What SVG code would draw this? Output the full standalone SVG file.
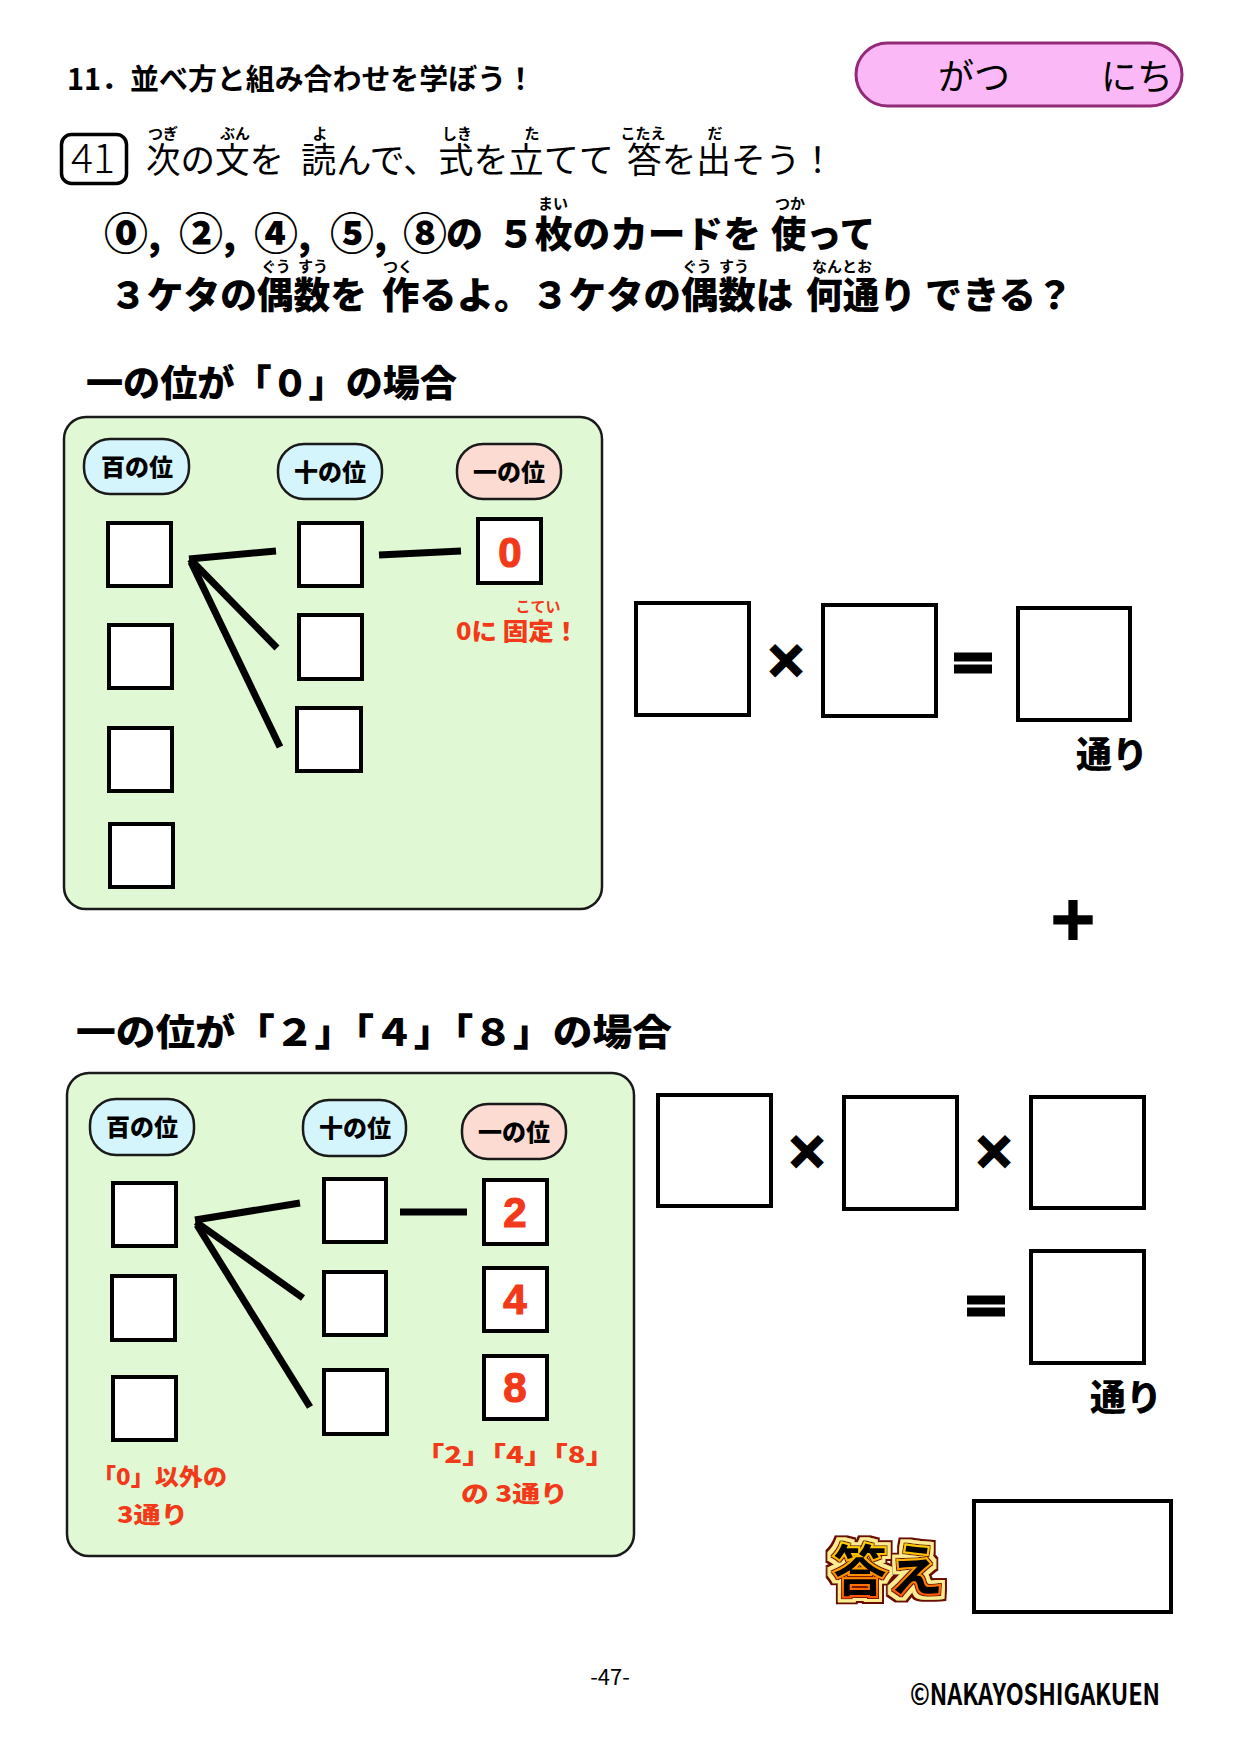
<svg xmlns="http://www.w3.org/2000/svg" width="1240" height="1754" viewBox="0 0 1240 1754">
<defs>
<style>
text{font-family:"Noto Sans CJK JP","Noto Sans CJK SC",sans-serif;fill:#000;}
.h{font-weight:900;}
.b{font-weight:700;}
.r{font-weight:400;}
.red{fill:#f23a1a;}
.box{fill:#fff;stroke:#000;stroke-width:4;}
.panel{fill:#e0f8d4;stroke:#1a1a1a;stroke-width:2.5;}
.pillB{fill:#d5f5fc;stroke:#1a1a1a;stroke-width:2.5;}
.pillR{fill:#fcdcd2;stroke:#1a1a1a;stroke-width:2.5;}
.ln{stroke:#000;stroke-width:7;fill:none;}
.pt{font-size:24px;font-weight:900;text-anchor:middle;}
.ruby{font-size:15px;font-weight:700;text-anchor:middle;}
.dig{font-family:"Liberation Sans",Arial,sans-serif;font-size:42px;font-weight:700;text-anchor:middle;fill:#f23a1a;stroke:#f23a1a;stroke-width:1.2;}
.op{font-weight:900;text-anchor:middle;stroke:#000;stroke-width:3;}
.big{font-size:37px;font-weight:900;}
.circ{font-size:44px;}
</style>
<linearGradient id="gold" x1="0" y1="0" x2="0" y2="1">
<stop offset="0" stop-color="#fff400"/>
<stop offset="0.45" stop-color="#ffb000"/>
<stop offset="1" stop-color="#ff3a00"/>
</linearGradient>
<filter id="badge" x="-30%" y="-40%" width="160%" height="180%">
<feMorphology in="SourceAlpha" operator="dilate" radius="5.5" result="d3"/>
<feFlood flood-color="#6a0c00" result="f3"/>
<feComposite in="f3" in2="d3" operator="in" result="c3"/>
<feMorphology in="SourceAlpha" operator="dilate" radius="3.5" result="d2"/>
<feFlood flood-color="#ffec90" result="f2"/>
<feComposite in="f2" in2="d2" operator="in" result="c2"/>
<feMorphology in="SourceAlpha" operator="dilate" radius="1.2" result="d1"/>
<feFlood flood-color="#7a1200" result="f1"/>
<feComposite in="f1" in2="d1" operator="in" result="c1"/>
<feMerge><feMergeNode in="c3"/><feMergeNode in="c2"/><feMergeNode in="c1"/><feMergeNode in="SourceGraphic"/></feMerge>
</filter>
</defs>
<rect width="1240" height="1754" fill="#fff"/>

<g id="header">
<text x="67" y="90" class="b" font-size="29" textLength="468" lengthAdjust="spacingAndGlyphs">11．並べ方と組み合わせを学ぼう！</text>
</g>

<g id="date">
<rect x="856" y="43" width="326" height="63" rx="31.5" fill="#fbb8f7" stroke="#922a78" stroke-width="3"/>
<text x="938" y="90" class="r" font-size="36">がつ</text>
<text x="1101" y="90" class="r" font-size="36">にち</text>
</g>

<g id="question">
<rect x="61.5" y="134.5" width="65" height="49" rx="10" fill="#fff" stroke="#000" stroke-width="3.5"/>
<text x="93" y="173" font-size="41" font-weight="300" text-anchor="middle">41</text>
<text x="163" y="139" class="ruby">つぎ</text>
<text x="235" y="139" class="ruby">ぶん</text>
<text x="320" y="139" class="ruby">よ</text>
<text x="457" y="139" class="ruby">しき</text>
<text x="532" y="139" class="ruby">た</text>
<text x="643" y="139" class="ruby">こたえ</text>
<text x="715" y="139" class="ruby">だ</text>
<text x="146" y="173" class="r" font-size="35" textLength="138" lengthAdjust="spacingAndGlyphs">次の文を</text>
<text x="301" y="173" class="r" font-size="35" textLength="313" lengthAdjust="spacingAndGlyphs">読んで、式を立てて</text>
<text x="627" y="173" class="r" font-size="35" textLength="208" lengthAdjust="spacingAndGlyphs">答を出そう！</text>

<text x="553" y="209" class="ruby">まい</text>
<text x="790" y="209" class="ruby">つか</text>
<text class="big"><tspan class="circ" x="104" y="250">⓪</tspan><tspan>,</tspan><tspan class="circ" x="179" y="250">②</tspan><tspan>,</tspan><tspan class="circ" x="254" y="250">④</tspan><tspan>,</tspan><tspan class="circ" x="330" y="250">⑤</tspan><tspan>,</tspan><tspan class="circ" x="403" y="250">⑧</tspan><tspan x="446" y="248">の</tspan></text>
<text x="497" y="248" class="big" textLength="264" lengthAdjust="spacingAndGlyphs">５枚のカードを</text>
<text x="771" y="248" class="big" textLength="104" lengthAdjust="spacingAndGlyphs">使って</text>

<text x="276" y="272" class="ruby">ぐう</text>
<text x="313" y="272" class="ruby">すう</text>
<text x="398" y="272" class="ruby">つく</text>
<text x="697" y="272" class="ruby">ぐう</text>
<text x="734" y="272" class="ruby">すう</text>
<text x="842" y="272" class="ruby">なんとお</text>
<text x="110" y="309" class="big" textLength="257" lengthAdjust="spacingAndGlyphs">３ケタの偶数を</text>
<text x="382" y="309" class="big" textLength="411" lengthAdjust="spacingAndGlyphs">作るよ。３ケタの偶数は</text>
<text x="806" y="309" class="big" textLength="110" lengthAdjust="spacingAndGlyphs">何通り</text>
<text x="925" y="309" class="big" textLength="148" lengthAdjust="spacingAndGlyphs">できる？</text>
</g>

<g id="title1">
<text x="86" y="397" class="big" textLength="371" lengthAdjust="spacingAndGlyphs">一の位が「０」の場合</text>
</g>

<g id="panel1">
<rect x="64" y="417" width="538" height="492" rx="22" class="panel"/>
</g>
<g id="p1-labels">
<rect x="84" y="439" width="105" height="55" rx="26" class="pillB"/>
<text x="137" y="476" class="pt">百の位</text>
<rect x="278" y="444" width="104" height="55" rx="26" class="pillB"/>
<text x="330" y="481" class="pt">十の位</text>
<rect x="457" y="444" width="104" height="55" rx="26" class="pillR"/>
<text x="509" y="481" class="pt">一の位</text>
</g>
<g id="p1-hundreds">
<rect x="108" y="523" width="63" height="63" class="box"/>
<rect x="109" y="625" width="63" height="63" class="box"/>
<rect x="109" y="728" width="63" height="63" class="box"/>
<rect x="110" y="824" width="63" height="63" class="box"/>
</g>
<g id="p1-tens">
<rect x="299" y="523" width="63" height="63" class="box"/>
<rect x="299" y="615" width="63" height="64" class="box"/>
<rect x="297" y="708" width="64" height="63" class="box"/>
</g>
<g id="p1-ones">
<rect x="478" y="519" width="63" height="64" class="box"/>
<text x="510" y="567" class="dig">0</text>
<text x="538" y="612" class="ruby red" font-size="14">こてい</text>
<text x="456" y="640" class="h red" font-size="24" textLength="123" lengthAdjust="spacingAndGlyphs">0に 固定！</text>
</g>

<g id="eq1">
<rect x="636" y="603" width="113" height="112" class="box"/>
<text x="786" y="678" class="op" font-size="44">×</text>
<rect x="823" y="605" width="113" height="111" class="box"/>
<text x="973" y="683" class="op" font-size="50">＝</text>
<rect x="1018" y="608" width="112" height="112" class="box"/>
<text x="1076" y="768" class="h" font-size="36">通り</text>
</g>

<g id="plus">
<text x="1073" y="940" class="op" font-size="52">＋</text>
</g>

<g id="title2">
<text x="76" y="1046" class="big" textLength="596" lengthAdjust="spacingAndGlyphs">一の位が「２」「４」「８」の場合</text>
</g>

<g id="panel2">
<rect x="67" y="1073" width="567" height="483" rx="22" class="panel"/>
</g>
<g id="p2-labels">
<rect x="90" y="1099" width="104" height="56" rx="26" class="pillB"/>
<text x="142" y="1136" class="pt">百の位</text>
<rect x="303" y="1100" width="103" height="56" rx="26" class="pillB"/>
<text x="355" y="1137" class="pt">十の位</text>
<rect x="462" y="1104" width="104" height="55" rx="26" class="pillR"/>
<text x="514" y="1141" class="pt">一の位</text>
</g>
<g id="p2-hundreds">
<rect x="113" y="1183" width="63" height="63" class="box"/>
<rect x="112" y="1276" width="63" height="64" class="box"/>
<rect x="113" y="1377" width="63" height="63" class="box"/>
<text x="92" y="1485" class="h red" font-size="23" textLength="135" lengthAdjust="spacingAndGlyphs">「0」以外の</text>
<text x="117" y="1523" class="h red" font-size="23" textLength="71" lengthAdjust="spacingAndGlyphs">3通り</text>
</g>
<g id="p2-tens">
<rect x="324" y="1179" width="62" height="63" class="box"/>
<rect x="324" y="1272" width="62" height="63" class="box"/>
<rect x="324" y="1370" width="63" height="64" class="box"/>
</g>
<g id="p2-ones">
<rect x="484" y="1180" width="63" height="64" class="box"/>
<text x="515" y="1227" class="dig">2</text>
<rect x="484" y="1268" width="63" height="63" class="box"/>
<text x="515" y="1314" class="dig">4</text>
<rect x="484" y="1356" width="63" height="63" class="box"/>
<text x="515" y="1402" class="dig">8</text>
<text x="415" y="1463" class="h red" font-size="23" textLength="200" lengthAdjust="spacingAndGlyphs">「2」「4」「8」</text>
<text x="461" y="1502" class="h red" font-size="23" textLength="107" lengthAdjust="spacingAndGlyphs">の 3通り</text>
</g>

<g id="eq2">
<rect x="658" y="1095" width="113" height="111" class="box"/>
<text x="807" y="1169" class="op" font-size="44">×</text>
<rect x="844" y="1097" width="113" height="112" class="box"/>
<text x="994" y="1169" class="op" font-size="44">×</text>
<rect x="1031" y="1097" width="113" height="111" class="box"/>
<text x="986" y="1326" class="op" font-size="50">＝</text>
<rect x="1031" y="1251" width="113" height="112" class="box"/>
<text x="1090" y="1411" class="h" font-size="36">通り</text>
</g>

<g id="answer">
<text x="888" y="1591" font-size="56" font-weight="900" text-anchor="middle" fill="url(#gold)" stroke="url(#gold)" stroke-width="2" filter="url(#badge)">答え</text>
<rect x="974" y="1501" width="197" height="111" class="box"/>
</g>

<g id="footer">
<text x="610" y="1685" font-family="Liberation Sans, Arial, sans-serif" font-size="22" text-anchor="middle">-47-</text>
<text x="910" y="1705" font-family="Liberation Sans, Arial, sans-serif" font-size="29" font-weight="700" textLength="250" lengthAdjust="spacingAndGlyphs">©NAKAYOSHIGAKUEN</text>
</g>

<g id="connectors">
<line x1="189" y1="559" x2="276" y2="551" class="ln"/>
<line x1="190" y1="559" x2="277" y2="648" class="ln"/>
<line x1="191" y1="562" x2="280" y2="747" class="ln"/>
<line x1="379" y1="555" x2="461" y2="551" class="ln"/>
<line x1="195" y1="1220" x2="300" y2="1203" class="ln"/>
<line x1="196" y1="1222" x2="303" y2="1298" class="ln"/>
<line x1="197" y1="1225" x2="310" y2="1407" class="ln"/>
<line x1="400" y1="1212" x2="467" y2="1212" class="ln"/>
</g>
</svg>
